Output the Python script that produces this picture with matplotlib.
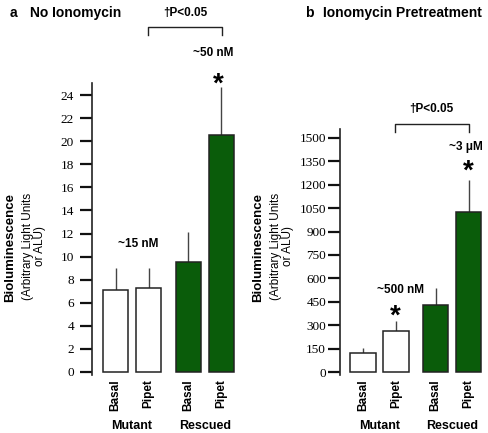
import matplotlib
matplotlib.use("Agg")
import matplotlib.pyplot as plt
from matplotlib.transforms import blended_transform_factory

# ---------------- data ----------------
bar_labels = ["Basal", "Pipet", "Basal", "Pipet"]
group_labels = ["Mutant", "Rescued"]
positions = [0, 1, 2.2, 3.2]
bar_colors = ["white", "white", "#0a5c0a", "#0a5c0a"]

a_values = [7.1, 7.3, 9.5, 20.5]
a_errors = [1.9, 1.7, 2.6, 4.2]
a_ticks = list(range(0, 25, 2))

b_values = [122, 262, 430, 1025]
b_errors = [32, 68, 110, 205]
b_ticks = list(range(0, 1501, 150))

W, H = 488, 433
fig = plt.figure(figsize=(W / 100, H / 100), dpi=100)

sans = "Liberation Sans"
serif = "Liberation Serif"


def make_panel(rect, values, errors, ticks, ylim, xlim, pad):
    ax = fig.add_axes(rect)
    ax.bar(positions, values, width=0.76, color=bar_colors,
           edgecolor="#222222", linewidth=1.1, zorder=2)
    tops = [v + e for v, e in zip(values, errors)]
    ax.vlines(positions, values, tops, color="#444444", linewidth=1.0, zorder=1)
    ax.set_ylim(*ylim)
    ax.set_xlim(*xlim)
    for s in ["top", "right", "bottom"]:
        ax.spines[s].set_visible(False)
    ax.spines["left"].set_linewidth(1.2)
    ax.spines["left"].set_color("#222222")
    ax.set_yticks(ticks)
    ax.set_yticklabels([str(t) for t in ticks], fontfamily=serif, fontsize=9.5)
    ax.tick_params(axis="y", direction="out", length=9, width=1.6,
                   color="#111111", pad=pad)
    ax.set_xticks(positions)
    ax.set_xticklabels(bar_labels, rotation=90, fontfamily=sans,
                       fontweight="bold", fontsize=8.5, va="top")
    ax.tick_params(axis="x", length=0, pad=3)
    ax.set_facecolor("none")
    # group labels
    tr = blended_transform_factory(ax.transData, fig.transFigure)
    ax.text((positions[0] + positions[1]) / 2, 1 - 426 / H, group_labels[0],
            transform=tr, ha="center", va="center",
            fontfamily=sans, fontweight="bold", fontsize=9)
    ax.text((positions[2] + positions[3]) / 2, 1 - 426 / H, group_labels[1],
            transform=tr, ha="center", va="center",
            fontfamily=sans, fontweight="bold", fontsize=9)
    return ax


def bracket(ax, x0, x1, ybot, ytop, label, ylab):
    ax.plot([x0, x0, x1, x1], [ybot, ytop, ytop, ybot], color="#222222",
            linewidth=1.0, clip_on=False)
    ax.text((x0 + x1) / 2, ylab, label, ha="center", va="center",
            fontfamily=sans, fontweight="bold", fontsize=8.5, clip_on=False)


def star(ax, x, y):
    ax.text(x, y, "*", ha="center", va="center", fontfamily=sans,
            fontweight="bold", fontsize=20, clip_on=False)


def note(ax, x, y, s):
    ax.text(x, y, s, ha="center", va="center", fontfamily=sans,
            fontweight="bold", fontsize=8.5, clip_on=False)


# panel a
axA = make_panel([92 / W, 1 - 375 / H, 148 / W, (375 - 83) / H],
                 a_values, a_errors, a_ticks, (-0.26, 25.04), (-0.712, 3.77), 4)
note(axA, 0.68, 11.1, "~15 nM")
note(axA, 2.97, 27.6, "~50 nM")
star(axA, 3.1, 24.9)
bracket(axA, 0.98, 3.23, 29.2, 29.9, "\u2020P<0.05", 31.1)

# panel b
axB = make_panel([340 / W, 1 - 375 / H, 148 / W, (375 - 129) / H],
                 b_values, b_errors, b_ticks, (-19, 1557), (-0.697, 3.788), 1)
note(axB, 1.15, 525, "~500 nM")
star(axB, 0.98, 355)
note(axB, 3.12, 1442, "~3 \u03bcM")
star(axB, 3.18, 1285)
bracket(axB, 0.97, 3.2, 1538, 1590, "\u2020P<0.05", 1686)

# titles
fig.text(10 / W, 1 - 13 / H, "a", fontfamily=sans, fontweight="bold",
         fontsize=10, va="center", ha="left")
fig.text(30 / W, 1 - 13 / H, "No Ionomycin", fontfamily=sans, fontweight="bold",
         fontsize=10, va="center", ha="left")
fig.text(305 / W, 1 - 13 / H, "b", fontfamily=sans, fontweight="bold",
         fontsize=10, va="center", ha="left")
fig.text(323 / W, 1 - 13 / H, "Ionomycin Pretreatment", fontfamily=sans,
         fontweight="bold", fontsize=10, va="center", ha="left")

# y labels
for x0 in (10, 258):
    fig.text(x0 / W, 1 - 248 / H, "Bioluminescence", rotation=90,
             fontfamily=sans, fontweight="bold", fontsize=9.5,
             ha="center", va="center")
    fig.text((x0 + 24) / W, 1 - 246 / H, "(Arbitrary Light Units\nor ALU)",
             rotation=90, fontfamily=sans, fontsize=8.5, ha="center",
             va="center", multialignment="center", linespacing=1.0)

fig.savefig("out.png", dpi=100)
